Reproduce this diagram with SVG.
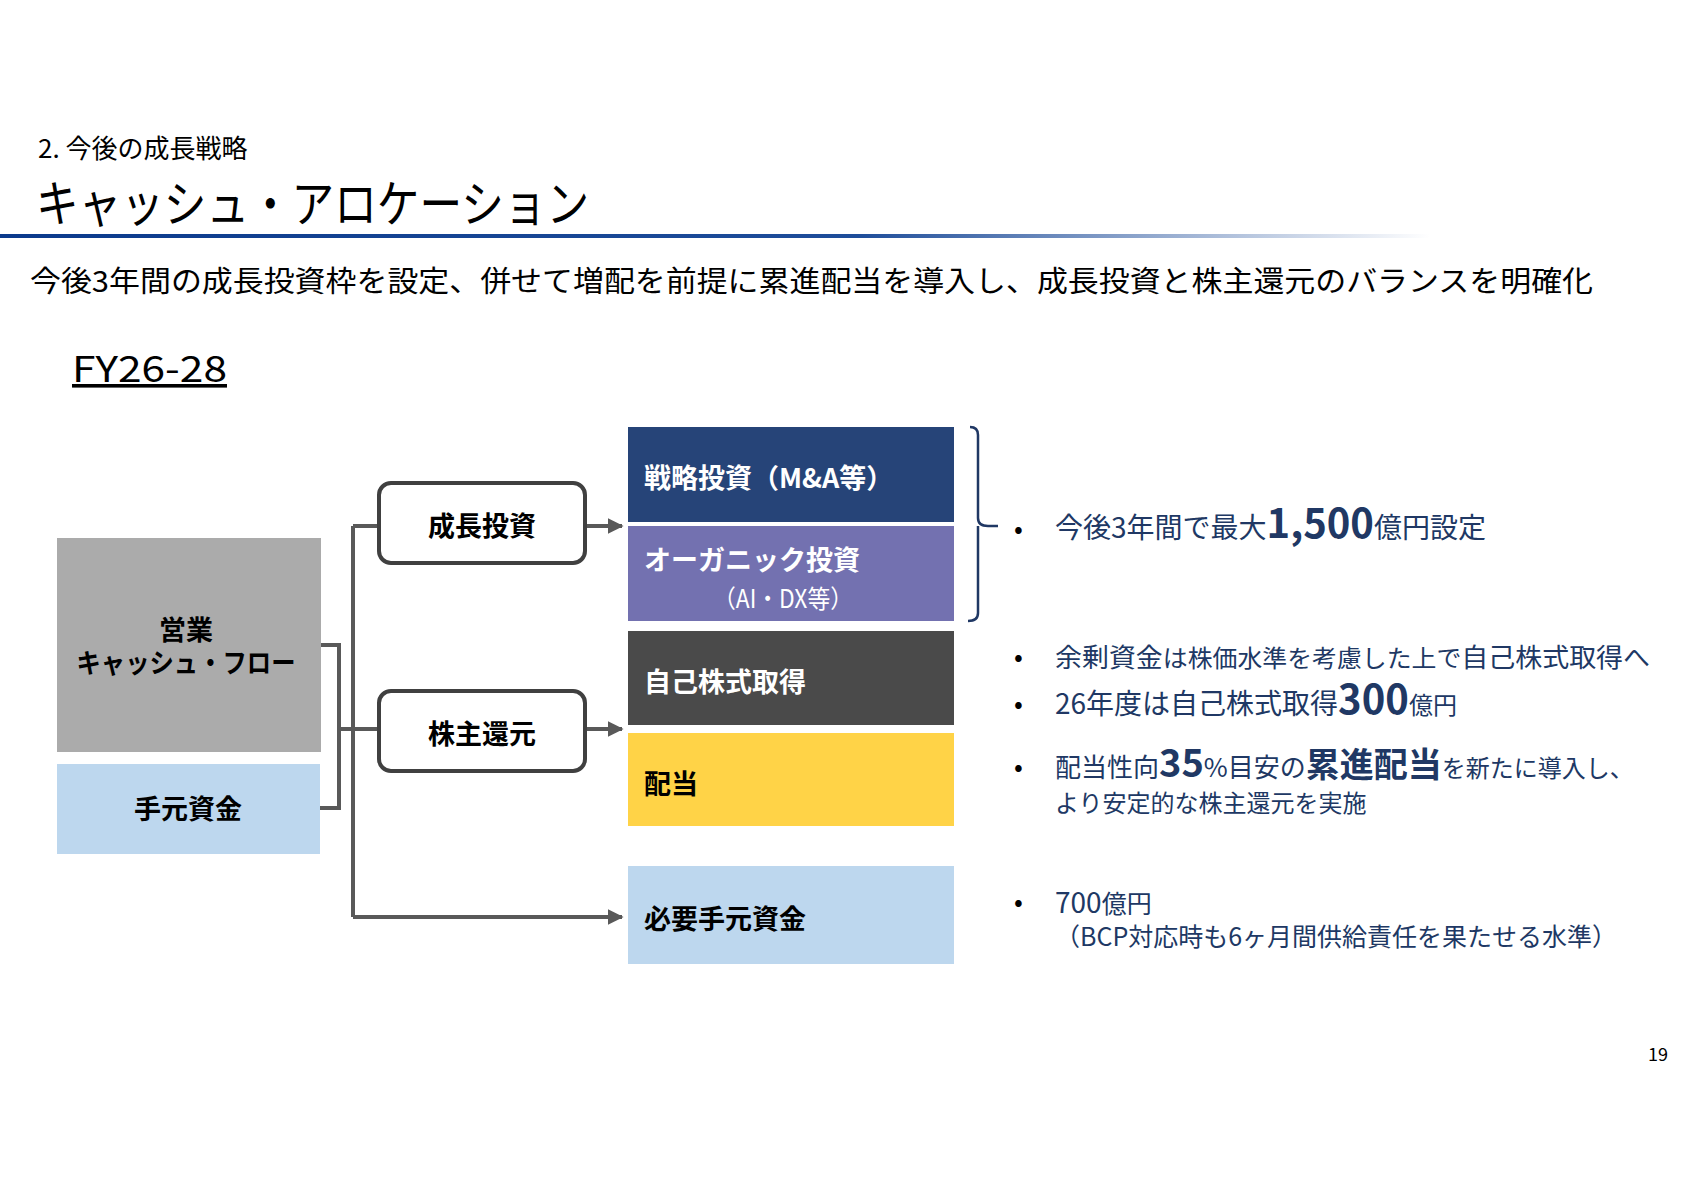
<svg xmlns="http://www.w3.org/2000/svg" width="1684" height="1190" viewBox="0 0 1684 1190">
<defs>
<linearGradient id="lg" x1="0" x2="1" y1="0" y2="0"><stop offset="0" stop-color="#0b3a8c"/><stop offset="0.6" stop-color="#1e4d9a"/><stop offset="1" stop-color="#1e4d9a" stop-opacity="0"/></linearGradient>
<marker id="ar" viewBox="0 0 10 10" refX="9" refY="5" markerWidth="4" markerHeight="4" orient="auto" markerUnits="strokeWidth"><path d="M0,0L10,5L0,10z" fill="#595959"/></marker>
<style>
text{font-family:"Noto Sans CJK JP","Noto Sans",sans-serif}
.b{font-weight:bold}
.w{fill:#fff}
.n{fill:#203864}
.c{fill:none;stroke:#595959;stroke-width:4}
.r{fill:#fff;stroke:#404040;stroke-width:4}
</style>
</defs>
<text x="38" y="158" font-size="26">2. 今後の成長戦略</text>
<text x="36" y="222" font-size="50" textLength="553" lengthAdjust="spacingAndGlyphs">キャッシュ・アロケーション</text>
<rect x="0" y="234" width="1430" height="4" fill="url(#lg)"/>
<text x="30" y="292" font-size="29" textLength="1563" lengthAdjust="spacingAndGlyphs">今後3年間の成長投資枠を設定、併せて増配を前提に累進配当を導入し、成長投資と株主還元のバランスを明確化</text>
<text x="72" y="382" font-size="36" text-decoration="underline" font-family="Noto Sans" textLength="155" lengthAdjust="spacingAndGlyphs">FY26-28</text>
<g id="cf"><rect x="57" y="538" width="264" height="214" fill="#ababab"/><text x="186" y="640" font-size="27" class="b" text-anchor="middle">営業</text><text x="186" y="673" font-size="27" class="b" text-anchor="middle" textLength="219" lengthAdjust="spacingAndGlyphs">キャッシュ・フロー</text></g>
<g id="cash"><rect x="57" y="764" width="263" height="90" fill="#bdd7ee"/><text x="188" y="819" font-size="27" class="b" text-anchor="middle">手元資金</text></g>
<g id="connectors">
<path class="c" d="M321 645H339V808H320M339 729H353M353 526V917M353 526H379M353 729H379"/>
<path class="c" d="M585 526H622" marker-end="url(#ar)"/>
<path class="c" d="M585 729H622" marker-end="url(#ar)"/>
<path class="c" d="M353 917H622" marker-end="url(#ar)"/>
</g>
<g id="growth"><rect class="r" x="379" y="483" width="206" height="80" rx="12"/><text x="482" y="536" font-size="27" class="b" text-anchor="middle">成長投資</text></g>
<g id="ret"><rect class="r" x="379" y="691" width="206" height="80" rx="12"/><text x="482" y="744" font-size="27" class="b" text-anchor="middle">株主還元</text></g>
<g id="s1"><rect x="628" y="427" width="326" height="95" fill="#264478"/><text x="644" y="488" font-size="27" class="b w">戦略投資（M&amp;A等）</text></g>
<g id="s2"><rect x="628" y="526" width="326" height="95" fill="#7371b0"/><text x="644" y="570" font-size="27" class="b w">オーガニック投資</text><text x="783" y="608" font-size="25" class="w" text-anchor="middle" textLength="140" lengthAdjust="spacingAndGlyphs">（AI・DX等）</text></g>
<g id="s3"><rect x="628" y="631" width="326" height="94" fill="#4a4a4a"/><text x="644" y="692" font-size="27" class="b w">自己株式取得</text></g>
<g id="s4"><rect x="628" y="733" width="326" height="93" fill="#ffd347"/><text x="644" y="794" font-size="27" class="b">配当</text></g>
<g id="s5"><rect x="628" y="866" width="326" height="98" fill="#bdd7ee"/><text x="644" y="929" font-size="27" class="b">必要手元資金</text></g>
<path d="M970 427Q978 427 978 435V518Q978 526 988 526H998M978 526V613Q978 621 968 621" fill="none" stroke="#203864" stroke-width="2.5"/>
<g font-size="26">
<text x="1014" y="538">•</text><text x="1055" y="538" class="n" font-size="28">今後3年間で最大<tspan class="b" font-size="40">1,500</tspan>億円設定</text>
<text x="1014" y="666">•</text><text x="1055" y="667" class="n" textLength="595" lengthAdjust="spacingAndGlyphs">余剰資金<tspan font-size="24">は株価水準を考慮した上で</tspan>自己株式取得へ</text>
<text x="1014" y="713">•</text><text x="1055" y="714" class="n" font-size="28">26年度は自己株式取得<tspan class="b" font-size="40">300</tspan><tspan font-size="24">億円</tspan></text>
<text x="1014" y="776">•</text><text x="1055" y="777" class="n">配当性向<tspan class="b" font-size="38">35</tspan>%目安の<tspan class="b" font-size="34">累進配当</tspan><tspan font-size="24">を新たに導入し、</tspan></text>
<text x="1055" y="812" class="n" font-size="24">より安定的な株主還元を実施</text>
<text x="1014" y="911">•</text><text x="1055" y="913" class="n" font-size="28">700<tspan font-size="25">億円</tspan></text>
<text x="1055" y="946" class="n" font-size="25">（BCP対応時も6ヶ月間供給責任を果たせる水準）</text>
</g>
<text x="1668" y="1061" font-size="18" text-anchor="end">19</text>
</svg>
